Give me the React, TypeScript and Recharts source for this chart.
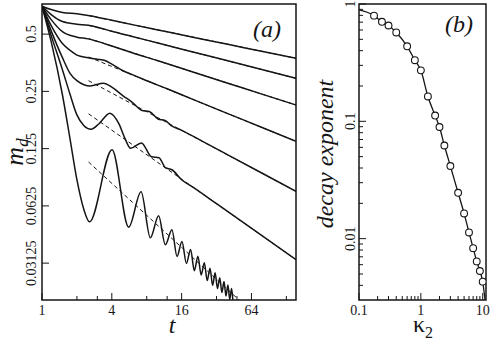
import { ComposedChart, Line, XAxis, YAxis, ReferenceArea } from 'recharts';

const SERIF = "'Liberation Serif', 'Times New Roman', 'DejaVu Serif', serif";
const INK = '#151515';

// ---- panel (a): m_d(t), log2 axes ----
const T_TICKS = [1, 2, 3, 4, 8, 12, 16, 32, 48, 64, 128];
const T_LABELS = [1, 4, 16, 64];
const M_TICKS = [0.03125, 0.0625, 0.125, 0.25, 0.5];

const T_SMOOTH = [1, 1.2, 1.5, 2, 2.5, 3, 4, 6, 10, 20, 40, 80, 155];
const C1_M = [0.7, 0.673, 0.65, 0.639, 0.626, 0.614, 0.592, 0.561, 0.526, 0.482, 0.442, 0.405, 0.373];
const C2_M = [0.7, 0.633, 0.582, 0.564, 0.556, 0.544, 0.518, 0.486, 0.449, 0.403, 0.362, 0.325, 0.293];
const C3_M = [0.7, 0.596, 0.515, 0.482, 0.472, 0.458, 0.433, 0.399, 0.362, 0.316, 0.276, 0.241, 0.212];

const C4_T = [1, 1.2, 1.5, 1.75, 2, 2.5, 3, 3.5, 4, 5, 6, 8, 12, 20, 40, 80, 155];
const C4_M = [0.7, 0.554, 0.446, 0.41, 0.388, 0.376, 0.369, 0.363, 0.348, 0.321, 0.306, 0.2845, 0.258, 0.227, 0.191, 0.161, 0.1365];

const C5_T = [1, 1.2, 1.5, 1.75, 2, 2.3, 2.6, 3.4, 4, 5, 6, 7.2, 8.5, 10, 11.5, 13, 16, 24, 40, 80, 155];
const C5_M = [0.7, 0.52, 0.376, 0.31, 0.2845, 0.271, 0.267, 0.276, 0.263, 0.237, 0.219, 0.199, 0.1955, 0.179, 0.176, 0.165, 0.156, 0.137, 0.116, 0.0925, 0.0745];

const C6_T = [1, 1.2, 1.5, 1.75, 2, 2.3, 2.65, 3.1, 3.85, 4.6, 5.2, 5.8, 7.2, 8.8, 10.2, 11.6, 13.2, 16, 20, 32, 80, 155];
const C6_M = [0.7, 0.491, 0.325, 0.24, 0.188, 0.165, 0.158, 0.169, 0.192, 0.169, 0.141, 0.1256, 0.134, 0.1133, 0.112, 0.0992, 0.0968, 0.0858, 0.0785, 0.0642, 0.0433, 0.0326];

const C7_T = [
  1, 1.2, 1.5, 1.75, 2, 2.3, 2.57, 4.02, 5.59, 7.15, 8.6, 10.13, 11.58, 13.2, 14.6,
  16.1, 17.6, 19.1, 20.6, 22.1, 23.6, 25.1, 26.6, 28.1, 29.6, 31.1, 32.6, 34.1, 35.6,
  37.1, 38.6, 40.1, 41.6, 43.1, 44.6, 46.5,
];
const C7_M = [
  0.7, 0.4565, 0.24, 0.139, 0.0858, 0.0596, 0.0515, 0.1234, 0.0483, 0.0741, 0.0425, 0.0554, 0.039, 0.0468, 0.0339,
  0.0406, 0.0311, 0.0369, 0.0285, 0.034, 0.0271, 0.0314, 0.0253, 0.0294, 0.0239, 0.0278, 0.023, 0.0262, 0.0219,
  0.025, 0.021, 0.024, 0.0201, 0.023, 0.0192, 0.018,
];

// power-law guides (dashed)
const FIT_T = [2.52, 155];
const FIT_M = [
  [0.626, 0.373],
  [0.556, 0.293],
  [0.474, 0.212],
  [0.379, 0.1365],
  [0.2845, 0.0745],
  [0.1906, 0.0326],
];
const FIT7_T = [2.52, 50];
const FIT7_M = [0.1063, 0.02];

// ---- panel (b): decay exponent vs kappa_2 ----
const KAPPA = [0.175, 0.235, 0.3, 0.4, 0.6, 0.8, 1, 1.3, 1.7, 2, 2.4, 3, 4, 5, 6, 7, 8, 9, 10];
const EXPONENT = [0.796, 0.705, 0.656, 0.572, 0.436, 0.332, 0.272, 0.163, 0.112, 0.0895, 0.0622, 0.0416, 0.0246, 0.0164, 0.0113, 0.0083, 0.0064, 0.0053, 0.0043];
const CURVE_KAPPA = [0.1, ...KAPPA, 10.9];
const CURVE_EXP = [0.89, ...EXPONENT, 0.003];

const K_TICKS = [0.1, 0.2, 0.3, 0.4, 0.5, 0.6, 0.7, 0.8, 0.9, 1, 2, 3, 4, 5, 6, 7, 8, 9, 10];
const K_LABELS = [0.1, 1, 10];
const E_TICKS = [
  0.004, 0.005, 0.006, 0.007, 0.008, 0.009, 0.01,
  0.02, 0.03, 0.04, 0.05, 0.06, 0.07, 0.08, 0.09, 0.1,
  0.2, 0.3, 0.4, 0.5, 0.6, 0.7, 0.8, 0.9, 1,
];
const E_LABELS = [0.01, 0.1, 1];

const pairs = (xs: number[], ys: number[], kx: string, ky: string) =>
  xs.map((x, i) => ({ [kx]: x, [ky]: ys[i] }));

const txt = (size: number, italic = false) => ({
  fontFamily: SERIF,
  fontSize: size,
  fontStyle: italic ? 'italic' : 'normal',
  fill: INK,
});

const bottomTick = (labels: number[]) => (p: any) => {
  const { x, y, payload } = p;
  const major = labels.includes(payload.value);
  return (
    <g>
      <line x1={x} x2={x} y1={y} y2={y - (major ? 7 : 4)} stroke={INK} strokeWidth={1} />
      {major && (
        <text x={x} y={y + 15} textAnchor="middle" style={txt(14)}>
          {String(payload.value)}
        </text>
      )}
    </g>
  );
};

const leftTick = (labels: number[], gap: number) => (p: any) => {
  const { x, y, payload } = p;
  const major = labels.includes(payload.value);
  const tx = x - gap;
  return (
    <g>
      <line x1={x} x2={x + (major ? 7 : 4)} y1={y} y2={y} stroke={INK} strokeWidth={1} />
      {major && (
        <text x={tx} y={y} transform={`rotate(-90 ${tx} ${y})`} textAnchor="middle" style={txt(14)}>
          {String(payload.value)}
        </text>
      )}
    </g>
  );
};

const SOLID = [
  pairs(T_SMOOTH, C1_M, 't', 'm'),
  pairs(T_SMOOTH, C2_M, 't', 'm'),
  pairs(T_SMOOTH, C3_M, 't', 'm'),
  pairs(C4_T, C4_M, 't', 'm'),
  pairs(C5_T, C5_M, 't', 'm'),
  pairs(C6_T, C6_M, 't', 'm'),
  pairs(C7_T, C7_M, 't', 'm'),
];
const DASHED = [...FIT_M.map((m) => pairs(FIT_T, m, 't', 'm')), pairs(FIT7_T, FIT7_M, 't', 'm')];

function PanelA() {
  return (
    <ComposedChart width={300} height={343} margin={{ top: 4, right: 4, bottom: 0, left: 0 }}>
      <XAxis
        dataKey="t" type="number" scale="log" domain={[1, 155]} allowDataOverflow
        ticks={T_TICKS} interval={0} height={43} tickSize={0} tickMargin={0}
        axisLine={false} tickLine={false} tick={bottomTick(T_LABELS)}
      />
      <YAxis
        type="number" scale="log" domain={[0.02, 0.72]} allowDataOverflow
        ticks={M_TICKS} interval={0} width={42} tickSize={0} tickMargin={0}
        axisLine={false} tickLine={false} tick={leftTick(M_TICKS, 6)}
      />
      <ReferenceArea x1={1} x2={155} y1={0.02} y2={0.72} fill="none" stroke={INK} strokeWidth={1.5} />
      {SOLID.map((d, i) => (
        <Line key={'s' + i} data={d} dataKey="m" type="monotone" stroke={INK} strokeWidth={1.5} dot={false} isAnimationActive={false} />
      ))}
      {DASHED.map((d, i) => (
        <Line key={'d' + i} data={d} dataKey="m" type="linear" stroke={INK} strokeWidth={1} strokeDasharray="4 3" dot={false} isAnimationActive={false} />
      ))}
    </ComposedChart>
  );
}

function PanelB() {
  return (
    <ComposedChart width={191} height={343} margin={{ top: 4, right: 5, bottom: 0, left: 0 }}>
      <XAxis
        dataKey="k" type="number" scale="log" domain={[0.1, 11.3]} allowDataOverflow
        ticks={K_TICKS} interval={0} height={43} tickSize={0} tickMargin={0}
        axisLine={false} tickLine={false} tick={bottomTick(K_LABELS)}
      />
      <YAxis
        type="number" scale="log" domain={[0.003, 1]} allowDataOverflow
        ticks={E_TICKS} interval={0} width={59} tickSize={0} tickMargin={0}
        axisLine={false} tickLine={false} tick={leftTick(E_LABELS, 4)}
      />
      <ReferenceArea x1={0.1} x2={11.3} y1={0.003} y2={1} fill="none" stroke={INK} strokeWidth={1.5} />
      <Line data={pairs(CURVE_KAPPA, CURVE_EXP, 'k', 'e')} dataKey="e" type="monotone" stroke={INK} strokeWidth={1.3} dot={false} isAnimationActive={false} />
      <Line
        data={pairs(KAPPA, EXPONENT, 'k', 'e')} dataKey="e" stroke="none"
        dot={{ r: 3.4, fill: '#fff', stroke: INK, strokeWidth: 1.1 }} isAnimationActive={false}
      />
    </ComposedChart>
  );
}

export default function App() {
  return (
    <div style={{ position: 'absolute', left: 0, top: 0, width: 491, height: 343, background: '#fff' }}>
      <div style={{ position: 'absolute', left: 0, top: 0 }}><PanelA /></div>
      <div style={{ position: 'absolute', left: 300, top: 0 }}><PanelB /></div>
      <svg width={491} height={343} style={{ position: 'absolute', left: 0, top: 0, pointerEvents: 'none' }}>
        <text x={253} y={37} style={txt(24, true)}>(a)</text>
        <text x={445} y={32} style={txt(24, true)}>(b)</text>
        <text x={172} y={333} textAnchor="middle" style={txt(24, true)}>t</text>
        <text x={23} y={152} transform="rotate(-90 23 152)" textAnchor="middle" style={txt(26, true)}>
          m<tspan style={{ fontSize: 17 }} dy={5}>d</tspan>
        </text>
        <text x={333} y={154} transform="rotate(-90 333 154)" textAnchor="middle" style={txt(24, true)}>
          decay exponent
        </text>
        <text x={413} y={332} style={txt(24)}>
          κ<tspan style={{ fontSize: 16 }} dy={6}>2</tspan>
        </text>
      </svg>
    </div>
  );
}
